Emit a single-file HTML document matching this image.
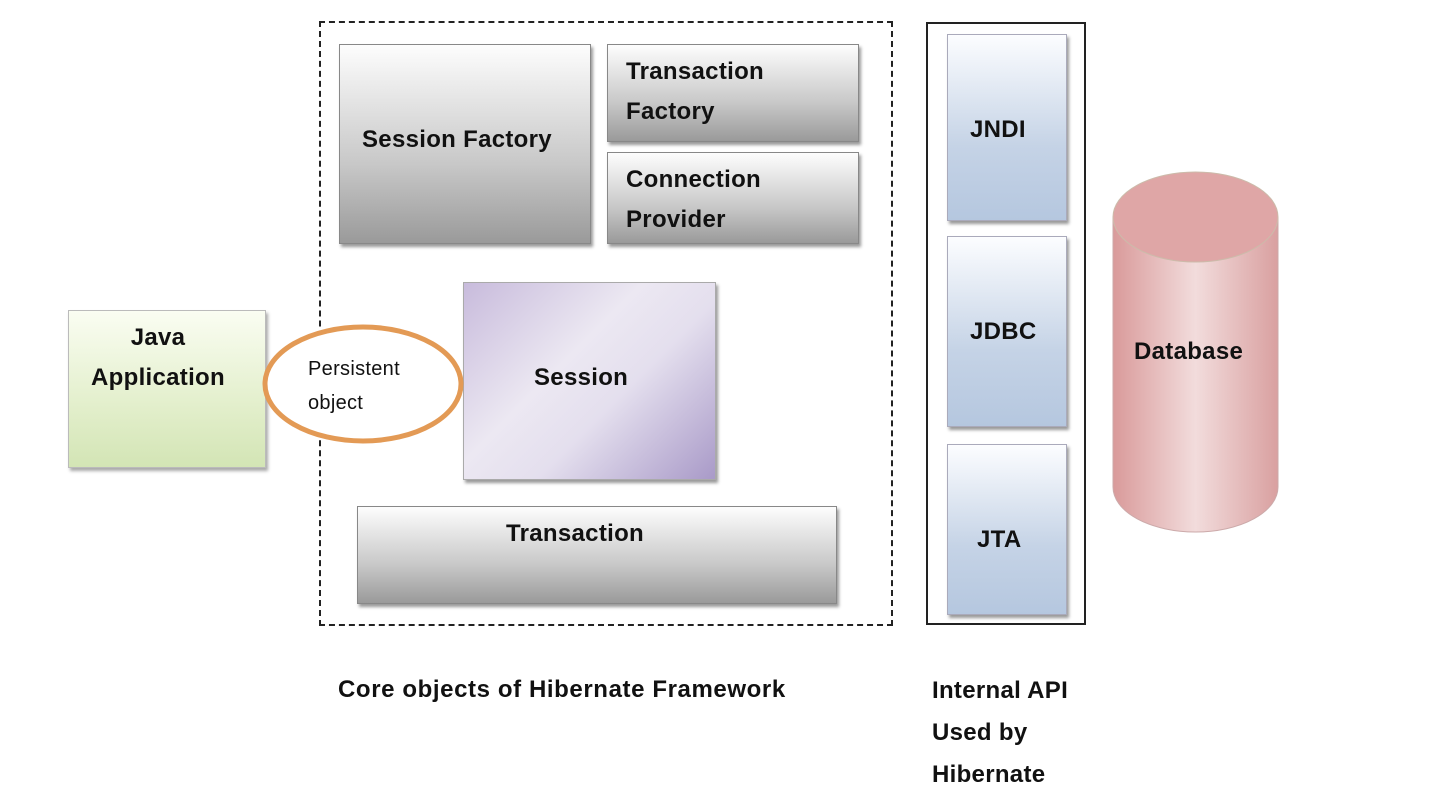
<!DOCTYPE html>
<html><head><meta charset="utf-8"><style>
body{margin:0;width:1438px;height:798px;background:#fff;position:relative;overflow:hidden;font-family:"Liberation Sans",sans-serif;font-weight:bold;color:#111}
.a{position:absolute;box-sizing:border-box}
.g{background:linear-gradient(#fdfdfd,#c8c8c8 60%,#9a9a9a);border:1px solid #888;box-shadow:2px 3px 3px #999}
.b{background:linear-gradient(#fcfdff,#c5d3e6 60%,#b5c7df);border:1px solid #aab;box-shadow:2px 3px 3px #999}
.t{position:absolute;font-size:24px;line-height:40px;letter-spacing:0.3px;white-space:nowrap}
</style></head><body>
<div class="a" style="left:319px;top:21px;width:574px;height:605px;border:2px dashed #222"></div>
<div class="a g" style="left:339px;top:44px;width:252px;height:200px"></div>
<div class="t" style="left:362px;top:120px">Session Factory</div>
<div class="a g" style="left:607px;top:44px;width:252px;height:98px"></div>
<div class="t" style="left:626px;top:52px">Transaction<br>Factory</div>
<div class="a g" style="left:607px;top:152px;width:252px;height:92px"></div>
<div class="t" style="left:626px;top:160px">Connection<br>Provider</div>
<div class="a" style="left:463px;top:282px;width:253px;height:198px;background:linear-gradient(135deg,#c8bbdc,#ece8f2 40%,#e4dfee 60%,#a99ac8);border:1px solid #aaa;box-shadow:2px 3px 3px #999"></div>
<div class="t" style="left:534px;top:358px">Session</div>
<div class="a g" style="left:357px;top:506px;width:480px;height:98px"></div>
<div class="t" style="left:506px;top:514px">Transaction</div>
<div class="a" style="left:68px;top:310px;width:198px;height:158px;background:linear-gradient(#fafdf2,#e3efcc 60%,#d3e5b5);border:1px solid #bbb;box-shadow:2px 3px 3px #aaa"></div>
<div class="t" style="left:78px;top:318px;width:160px;text-align:center">Java<br>Application</div>
<svg class="a" style="left:0;top:0" width="1438" height="798">
<ellipse cx="363" cy="384" rx="98" ry="57" fill="#fff" stroke="#e39a55" stroke-width="5"/>
<defs><linearGradient id="c" x1="0" x2="1"><stop offset="0" stop-color="#d99a9a"/><stop offset=".5" stop-color="#f2dcdc"/><stop offset="1" stop-color="#d9a0a0"/></linearGradient></defs>
<path d="M1113 217 V487 A82.5 45 0 0 0 1278 487 V217" fill="url(#c)" stroke="#caa" />
<ellipse cx="1195.5" cy="217" rx="82.5" ry="45" fill="#dfa6a6" stroke="#cba"/>
</svg>
<div class="t" style="left:308px;top:352px;font-size:20px;line-height:34px;font-weight:normal">Persistent<br>object</div>
<div class="a" style="left:926px;top:22px;width:160px;height:603px;border:2px solid #222"></div>
<div class="a b" style="left:947px;top:34px;width:120px;height:187px"></div>
<div class="t" style="left:970px;top:110px">JNDI</div>
<div class="a b" style="left:947px;top:236px;width:120px;height:191px"></div>
<div class="t" style="left:970px;top:312px">JDBC</div>
<div class="a b" style="left:947px;top:444px;width:120px;height:171px"></div>
<div class="t" style="left:977px;top:520px">JTA</div>
<div class="t" style="left:1134px;top:332px">Database</div>
<div class="t" style="left:338px;top:670px;letter-spacing:0.6px">Core objects of Hibernate Framework</div>
<div class="t" style="left:932px;top:670px;line-height:42px">Internal API<br>Used by<br>Hibernate</div>
</body></html>
